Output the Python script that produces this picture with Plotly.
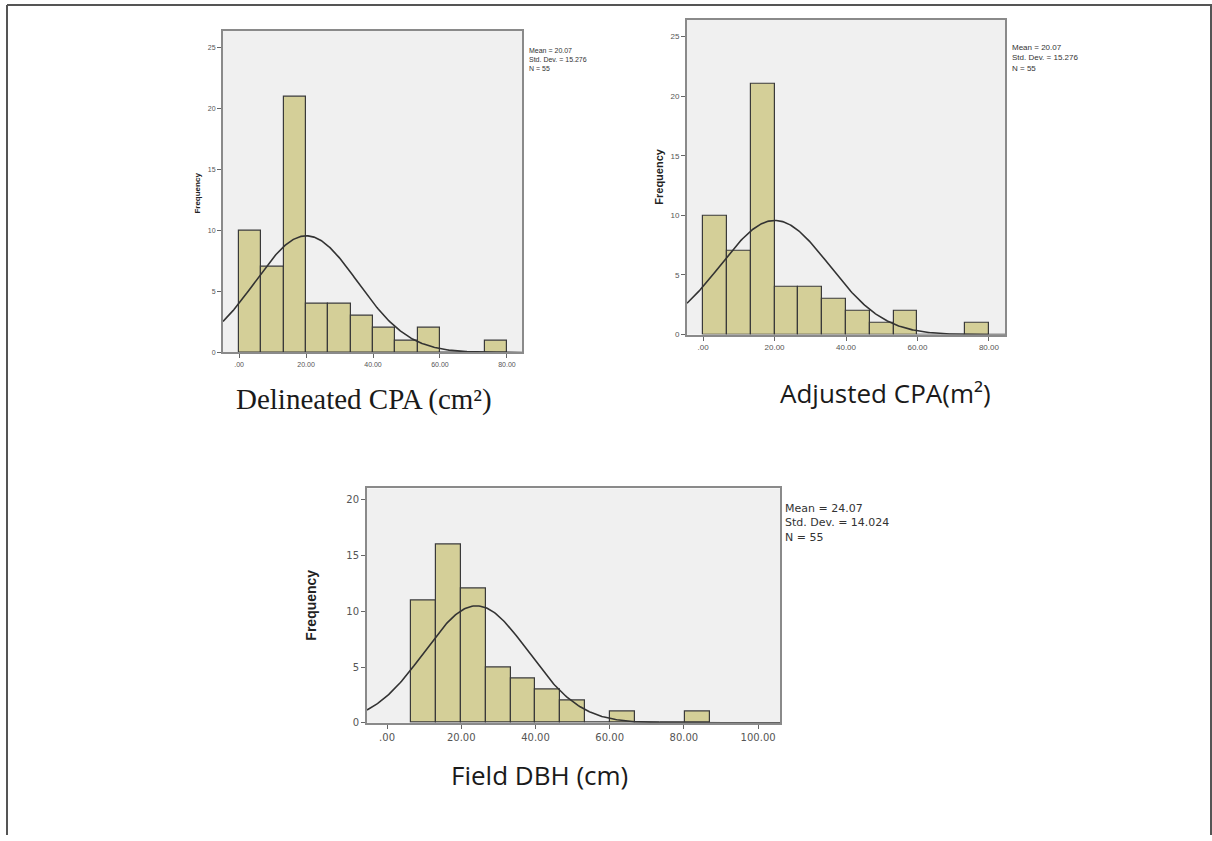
import numpy as np
import plotly.graph_objects as go

# ---------------- data ----------------
# Panel 1: Delineated CPA
p1_bin_start = 0.0
p1_bin_width = 80.0 / 12
p1_counts = [10, 7, 21, 4, 4, 3, 2, 1, 2, 0, 0, 1]
p1_mean, p1_sd, p1_n = 20.07, 15.276, 55

# Panel 2: Adjusted CPA
p2_bin_start = 0.0
p2_bin_width = 80.0 / 12
p2_counts = [10, 7, 21, 4, 4, 3, 2, 1, 2, 0, 0, 1]
p2_mean, p2_sd, p2_n = 20.07, 15.276, 55

# Panel 3: Field DBH
p3_bin_start = 6.5
p3_bin_width = 6.7
p3_counts = [11, 16, 12, 5, 4, 3, 2, 0, 1, 0, 0, 1]
p3_mean, p3_sd, p3_n = 24.07, 14.024, 55

x_ticks_12 = [0, 20, 40, 60, 80]
x_ticklabels_12 = [".00", "20.00", "40.00", "60.00", "80.00"]
x_ticks_3 = [0, 20, 40, 60, 80, 100]
x_ticklabels_3 = [".00", "20.00", "40.00", "60.00", "80.00", "100.00"]
y_ticks_12 = [0, 5, 10, 15, 20, 25]
y_ticks_3 = [0, 5, 10, 15, 20]

captions = ["Delineated CPA (cm²)", "Adjusted CPA(m²)", "Field DBH (cm)"]

W, H = 1212, 841
BAR_FILL = "#d4cf98"
BAR_EDGE = "#3a3a3a"
BG = "#f0f0f0"

fig = go.Figure()

def px_x(p):
    return p / W

def px_y(p):
    return 1 - p / H

panels = [
    dict(start=p1_bin_start, width=p1_bin_width, counts=p1_counts, mean=p1_mean, sd=p1_sd, n=p1_n,
         dom_x=[px_x(223), px_x(522)], dom_y=[px_y(355), px_y(31)], xr=[-4.8, 84.5], yr=[0, 26.4],
         xt=x_ticks_12, xtl=x_ticklabels_12, yt=y_ticks_12, tickfont=7, freqfont=8, freq_x=198, freq_y=195,
         stat_x=527, stat_y=45, statfont=7),
    dict(start=p2_bin_start, width=p2_bin_width, counts=p2_counts, mean=p2_mean, sd=p2_sd, n=p2_n,
         dom_x=[px_x(687), px_x(1005)], dom_y=[px_y(337), px_y(20)], xr=[-4.5, 84.5], yr=[0, 26.4],
         xt=x_ticks_12, xtl=x_ticklabels_12, yt=y_ticks_12, tickfont=8, freqfont=11, freq_x=659, freq_y=178,
         stat_x=1010, stat_y=41, statfont=8),
    dict(start=p3_bin_start, width=p3_bin_width, counts=p3_counts, mean=p3_mean, sd=p3_sd, n=p3_n,
         dom_x=[px_x(367), px_x(780)], dom_y=[px_y(728), px_y(492)], xr=[-5.4, 105.9], yr=[0, 21],
         xt=x_ticks_3, xtl=x_ticklabels_3, yt=y_ticks_3, tickfont=10, freqfont=14, freq_x=311, freq_y=610,
         stat_x=783, stat_y=504, statfont=11),
]

for i, p in enumerate(panels):
    k = "" if i == 0 else str(i + 1)
    xa, ya = "x" + k, "y" + k
    centers = [p["start"] + (j + 0.5) * p["width"] for j in range(len(p["counts"]))]
    fig.add_trace(go.Bar(x=centers, y=p["counts"], width=p["width"],
                         marker=dict(color=BAR_FILL, line=dict(color=BAR_EDGE, width=1.2)),
                         xaxis=xa, yaxis=ya, showlegend=False, hoverinfo="x+y"))
    xs = np.linspace(p["xr"][0], p["xr"][1], 300)
    ys = p["n"] * p["width"] * np.exp(-0.5 * ((xs - p["mean"]) / p["sd"]) ** 2) / (p["sd"] * np.sqrt(2 * np.pi))
    fig.add_trace(go.Scatter(x=xs, y=ys, mode="lines", line=dict(color="#333333", width=1.6),
                             xaxis=xa, yaxis=ya, showlegend=False, hoverinfo="skip"))
    tf = dict(size=p["tickfont"], color="#555555", family="Liberation Sans" if i < 2 else "DejaVu Sans")
    fig.update_layout({
        "xaxis" + k: dict(domain=p["dom_x"], range=p["xr"], anchor=ya, tickvals=p["xt"], ticktext=p["xtl"],
                          showgrid=False, zeroline=False, showline=True, linecolor="#8a8a8a", linewidth=2,
                          mirror=True, ticks="outside", ticklen=4, tickcolor="#666", tickfont=tf),
        "yaxis" + k: dict(domain=p["dom_y"], range=p["yr"], anchor=xa, tickvals=p["yt"],
                          showgrid=False, zeroline=False, showline=True, linecolor="#8a8a8a", linewidth=2,
                          mirror=True, ticks="outside", ticklen=4, tickcolor="#666", tickfont=tf),
    })
    fig.add_annotation(text="<b>Frequency</b>", x=px_x(p["freq_x"]), y=px_y(p["freq_y"]), xref="paper", yref="paper",
                       textangle=-90, showarrow=False,
                       font=dict(size=p["freqfont"], color="#222222",
                                 family="Liberation Sans Narrow, Liberation Sans" if i == 2 else "Liberation Sans"),
                       xanchor="center", yanchor="middle")
    stat = f"Mean = {p['mean']:.2f}<br>Std. Dev. = {p['sd']:.3f}<br>N = {p['n']}"
    fig.add_annotation(text=stat, x=px_x(p["stat_x"]), y=px_y(p["stat_y"]), xref="paper", yref="paper",
                       showarrow=False, align="left", xanchor="left", yanchor="top",
                       font=dict(size=p["statfont"], color="#333333",
                                 family="Liberation Sans" if i < 2 else "DejaVu Sans"))

# captions
fig.add_annotation(text=captions[0], x=px_x(364), y=px_y(402), xref="paper", yref="paper", showarrow=False,
                   font=dict(size=29, family="Liberation Serif", color="#1a1a1a"), xanchor="center", yanchor="middle")
fig.add_annotation(text=captions[1], x=px_x(885), y=px_y(396), xref="paper", yref="paper", showarrow=False,
                   font=dict(size=26, family="Open Sans", color="#1a1a1a"), xanchor="center", yanchor="middle")
fig.add_annotation(text=captions[2], x=px_x(539), y=px_y(781), xref="paper", yref="paper", showarrow=False,
                   font=dict(size=26, family="Open Sans", color="#1a1a1a"), xanchor="center", yanchor="middle")

# outer frame (left, top, right edges)
fig.add_shape(type="line", xref="paper", yref="paper", x0=px_x(7), x1=px_x(7), y0=0, y1=px_y(5),
              line=dict(color="#555555", width=2))
fig.add_shape(type="line", xref="paper", yref="paper", x0=px_x(7), x1=1, y0=px_y(5), y1=px_y(5),
              line=dict(color="#555555", width=2))
fig.add_shape(type="line", xref="paper", yref="paper", x0=px_x(1211), x1=px_x(1211), y0=0, y1=px_y(5),
              line=dict(color="#555555", width=2))

fig.update_layout(width=W, height=H, margin=dict(l=0, r=0, t=0, b=0), paper_bgcolor="white",
                  plot_bgcolor=BG, bargap=0, showlegend=False)

fig.write_html("out.html")
